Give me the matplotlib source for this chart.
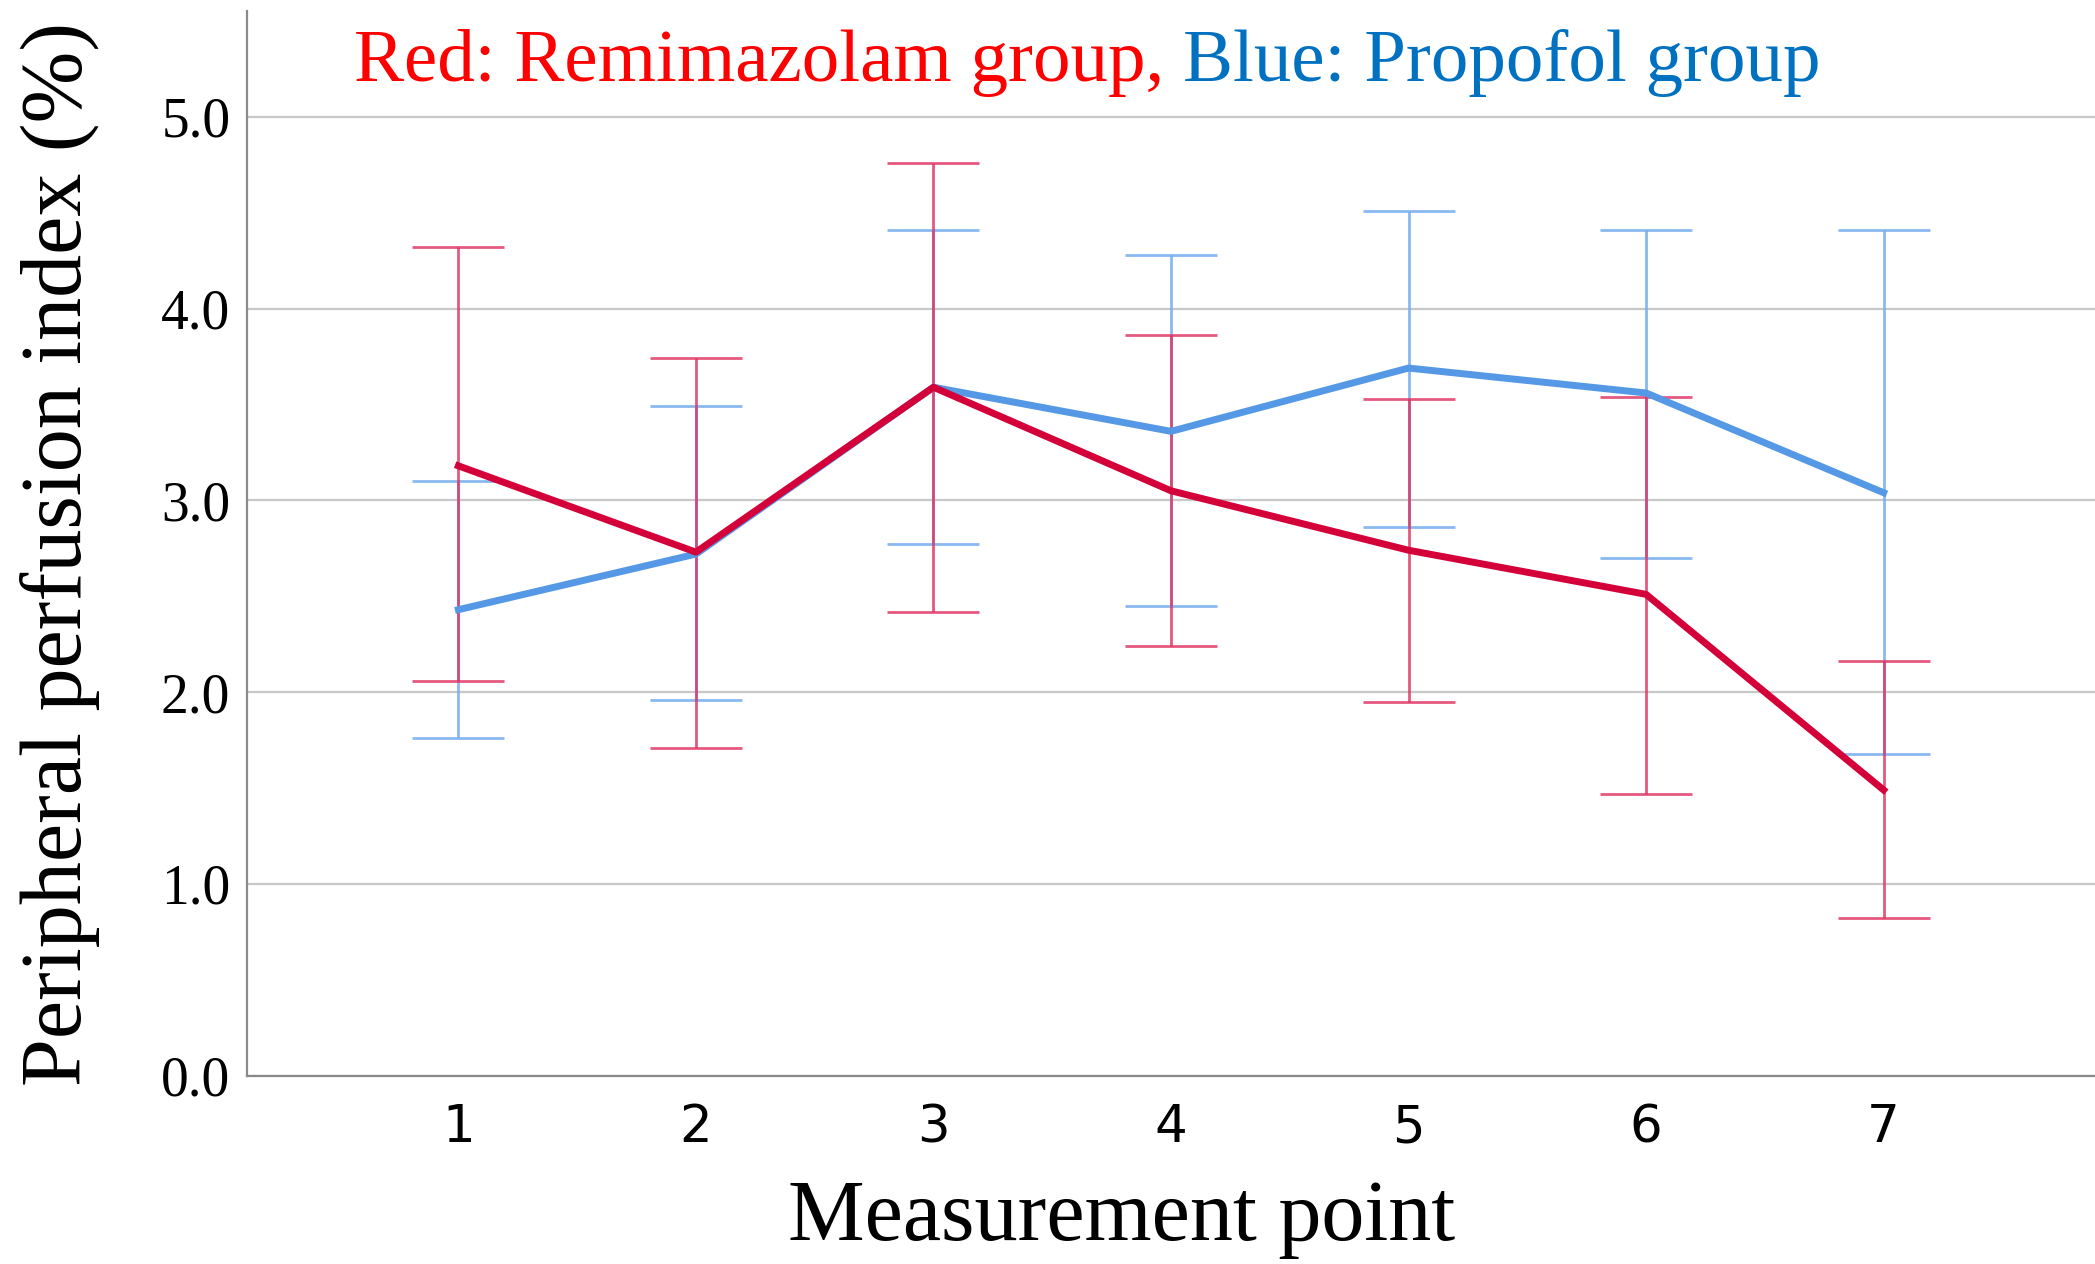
import matplotlib
matplotlib.use("Agg")
import matplotlib.pyplot as plt

points = [1, 2, 3, 4, 5, 6, 7]

# Remimazolam group (red)
remi_mean = [3.18, 2.73, 3.59, 3.05, 2.74, 2.51, 1.49]
remi_low = [2.06, 1.71, 2.42, 2.24, 1.95, 1.47, 0.82]
remi_high = [4.32, 3.74, 4.76, 3.86, 3.53, 3.54, 2.16]

# Propofol group (blue)
prop_mean = [2.43, 2.72, 3.59, 3.36, 3.69, 3.56, 3.04]
prop_low = [1.76, 1.96, 2.77, 2.45, 2.86, 2.70, 1.68]
prop_high = [3.10, 3.49, 4.41, 4.28, 4.51, 4.41, 4.41]

y_ticks = [0.0, 1.0, 2.0, 3.0, 4.0, 5.0]

red_line = "#D4003A"
red_bar = "#E0305F"
blue_line = "#5598E5"
blue_bar = "#76ADEE"

fig = plt.figure(figsize=(20.95, 12.64), dpi=100)
ax = fig.add_axes([0.1179, 0.149, 0.8821, 0.842])

# error bars first, lines on top
prop_err = [[m - l for m, l in zip(prop_mean, prop_low)],
            [h - m for m, h in zip(prop_mean, prop_high)]]
remi_err = [[m - l for m, l in zip(remi_mean, remi_low)],
            [h - m for m, h in zip(remi_mean, remi_high)]]

ax.errorbar(points, prop_mean, yerr=prop_err, fmt="none", ecolor=blue_bar,
            elinewidth=2.0, capsize=33, capthick=2.0, alpha=0.85, zorder=3)
ax.errorbar(points, remi_mean, yerr=remi_err, fmt="none", ecolor=red_bar,
            elinewidth=2.0, capsize=33, capthick=2.0, alpha=0.8, zorder=4)
ax.plot(points, prop_mean, color=blue_line, lw=5, zorder=5)
ax.plot(points, remi_mean, color=red_line, lw=5, zorder=6)

ax.set_xlim(0.11, 7.89)
ax.set_ylim(0, 5.55)
ax.set_yticks(y_ticks)
ax.set_yticklabels(["%.1f" % v for v in y_ticks], fontfamily="Liberation Serif", fontsize=40)
ax.set_xticks(points)
ax.set_xticklabels([str(p) for p in points], fontfamily="DejaVu Sans", fontsize=37)
ax.tick_params(axis="both", length=0)
ax.tick_params(axis="y", pad=12)
ax.tick_params(axis="x", pad=20)

ax.grid(axis="y", color="#C8C8C8", lw=1.6, zorder=0)
ax.set_axisbelow(True)
for side in ["top", "right"]:
    ax.spines[side].set_visible(False)
for side in ["left", "bottom"]:
    ax.spines[side].set_color("#8A8A8A")
    ax.spines[side].set_linewidth(1.6)

fig.text(0.0287, 0.562, "Peripheral perfusion index (%)", rotation=90,
         ha="center", va="center", fontfamily="Liberation Serif", fontsize=62)
fig.text(0.5356, 0.0356, "Measurement point", ha="center", va="center",
         fontfamily="Liberation Serif", fontsize=62)

# two-colour title
t1 = fig.text(0.169, 0.950, "Red: Remimazolam group, ", ha="left", va="center",
              color="#FF0000", fontfamily="Liberation Serif", fontsize=54)
fig.canvas.draw()
bb = t1.get_window_extent()
x_next = bb.x1 / fig.bbox.width
fig.text(x_next, 0.950, "Blue: Propofol group", ha="left", va="center",
         color="#0070C0", fontfamily="Liberation Serif", fontsize=54)

fig.savefig("out.png", dpi=100)
